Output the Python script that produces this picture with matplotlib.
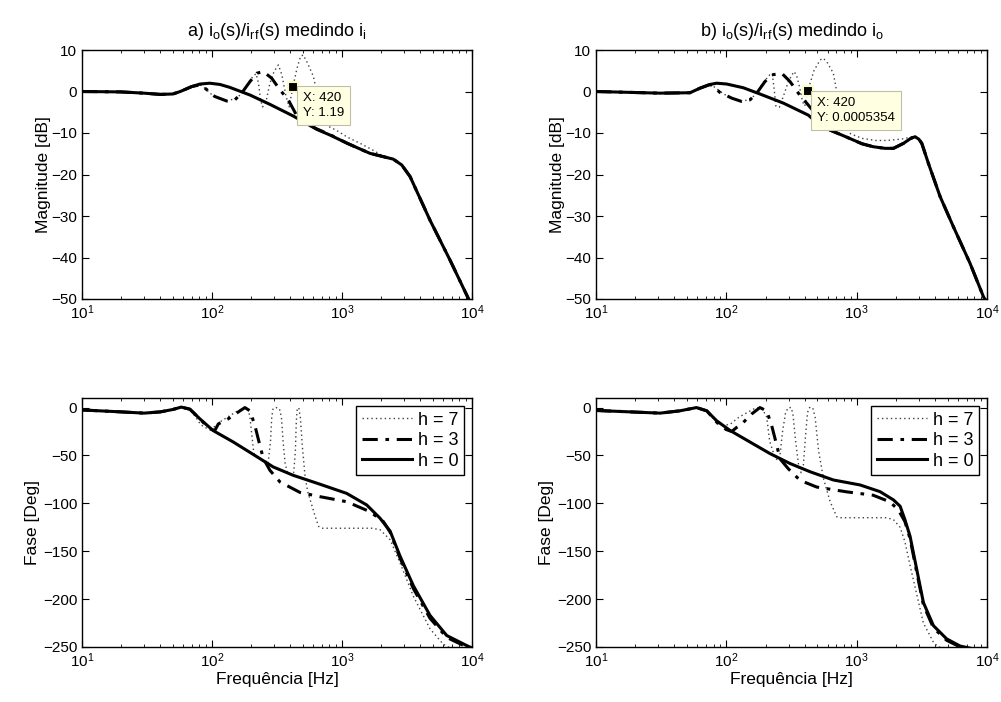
import matplotlib
matplotlib.use("Agg")
import matplotlib.pyplot as plt
from matplotlib.ticker import LogLocator, NullFormatter, FixedLocator

plt.rcParams['font.family'] = ['Liberation Sans', 'DejaVu Sans']
plt.rcParams['mathtext.fontset'] = 'custom'
plt.rcParams['mathtext.rm'] = 'Liberation Sans'
plt.rcParams['mathtext.it'] = 'Liberation Sans:italic'
plt.rcParams['mathtext.bf'] = 'Liberation Sans:bold'

# ---------------- data: panel a) (medindo i_i) ----------------
# magnitude [dB]
a_mag_f0 = [10, 20, 30, 40, 50, 57, 70, 81, 96, 115, 137, 196, 279, 421, 638, 809, 1100, 1640, 2480, 2880, 3340, 4750, 6770, 9350, 10000]
a_mag_h0 = [0, -0.1, -0.4, -0.7, -0.6, 0, 1.2, 1.8, 2.0, 1.7, 1.0, -0.85, -3.1, -5.9, -9.1, -10.5, -12.5, -14.9, -16.3, -17.7, -20.5, -31, -40.6, -49.8, -52]

a_mag_f3 = [10, 20, 30, 40, 50, 57, 70, 81, 90, 105, 130, 150, 169, 196, 221, 248, 288, 333, 386, 461, 550, 638, 809, 1100, 1640, 2480, 2880, 3340, 4750, 6770, 9350, 10000]
a_mag_h3 = [0, -0.1, -0.4, -0.7, -0.6, 0, 1.2, 1.6, 0.6, -1.2, -2.3, -2.0, -0.4, 2.4, 4.4, 4.8, 3.2, 0.4, -2.0, -6.5, -7.9, -9.0, -10.4, -12.5, -14.9, -16.3, -17.7, -20.5, -31, -40.6, -49.8, -52]

a_mag_f7 = [10, 20, 30, 40, 50, 57, 70, 81, 88, 100, 115, 130, 150, 170, 185, 205, 218, 228, 236, 245, 260, 279, 300, 324, 345, 370, 392, 420, 450, 480, 503, 540, 603, 638, 680, 740, 900, 1100, 1400, 1700, 2000, 2480, 2880, 3340, 4750, 6770, 9350, 10000]
a_mag_h7 = [0, -0.1, -0.4, -0.7, -0.6, 0, 1.2, 1.6, 0.8, -0.8, -1.8, -2.2, -1.8, -0.5, 1.5, 3.5, 4.3, 2.0, -2.0, -3.7, -2.5, 2.0, 4.8, 6.4, 4.0, -1.0, -3.7, 1.19, 5.5, 8.5, 8.8, 7.0, 3.6, 0.0, -5.5, -8.0, -9.3, -11.0, -12.6, -14.0, -15.3, -16.3, -17.7, -20.5, -31, -40.6, -49.8, -52]

# phase [deg]
a_ph_f0 = [10, 20, 30, 40, 50, 58, 67.6, 81, 102, 146, 208, 296, 421, 676, 1086, 1550, 1960, 2345, 2793, 3540, 4754, 6390, 9100, 10000]
a_ph_h0 = [-2.5, -4.5, -5.8, -4.5, -2, 0.5, -1.7, -12, -24, -36, -49, -62, -70.7, -80, -89.6, -101.7, -115.5, -129, -155, -186, -217, -238, -248.5, -251]

a_ph_f3 = [10, 20, 30, 40, 50, 58, 67.6, 81, 95, 105, 112, 130, 150, 179, 196, 214, 234, 248, 279, 333, 475, 676, 1086, 1640, 2080, 2345, 2793, 3540, 4754, 6390, 9100, 10000]
a_ph_h3 = [-2.5, -4.5, -5.8, -4.5, -2, 0.5, -1.7, -12, -22, -24, -17, -12.7, -7, 0, -3.4, -19, -40, -53, -65.5, -77.6, -88.6, -93, -98.3, -108.7, -119, -130, -157, -189, -220, -240, -250, -252]

a_ph_f7 = [10, 20, 30, 40, 50, 58, 67.6, 75, 82, 92, 102, 115, 135, 155, 175, 185, 195, 203, 210, 225, 250, 270, 282, 288, 295, 310, 330, 342, 352, 365, 380, 400, 425, 438, 445, 452, 465, 478, 495, 520, 545, 580, 620, 660, 700, 1000, 1700, 1960, 2345, 2793, 3540, 4754, 6000, 6770, 10000]
a_ph_h7 = [-2.5, -4.5, -5.8, -4.5, -2, 0.5, -1.7, -10, -18, -22, -21, -15, -9, -4, -0.5, -0.5, -8, -30, -48, -52, -56, -58, -35, -10, -1, 0, -1, -10, -35, -58, -68, -70, -68, -45, -15, -2, 0, -10, -40, -72, -88, -100, -113, -124, -126, -126, -126, -127.5, -138, -162, -197, -231, -247, -251, -256]

# ---------------- data: panel b) (medindo i_o) ----------------
b_mag_f0 = [10, 31, 52.6, 62.8, 75, 84.3, 100.7, 135, 181, 274, 426, 470, 625, 839, 1100, 1337, 1652, 1915, 2285, 2600, 2808, 3000, 3160, 3550, 4365, 5525, 7410, 9380, 10000]
b_mag_h0 = [0, -0.4, -0.3, 0.8, 1.7, 2.0, 1.8, 0.9, -0.6, -2.8, -5.7, -6.9, -9.3, -11.0, -12.6, -13.3, -13.7, -13.7, -12.5, -11.3, -10.9, -11.5, -12.5, -17.3, -25.3, -32.6, -41.4, -49.4, -51]

b_mag_f3 = [10, 31, 52.6, 62.8, 75, 80, 89, 110, 131, 152, 171, 198, 223, 266, 308, 357, 426, 494, 560, 625, 839, 1100, 1337, 1652, 1915, 2285, 2600, 2808, 3000, 3160, 3550, 4365, 5525, 7410, 9380, 10000]
b_mag_h3 = [0, -0.4, -0.3, 0.8, 1.7, 1.2, -0.2, -1.6, -2.4, -2.0, -0.4, 2.4, 4.0, 4.4, 2.4, -0.4, -3.3, -5.7, -8.2, -9.3, -11.0, -12.6, -13.3, -13.7, -13.7, -12.5, -11.3, -10.9, -11.5, -12.5, -17.3, -25.3, -32.6, -41.4, -49.4, -51]

b_mag_f7 = [10, 31, 52.6, 62.8, 75, 80, 90, 100, 115, 135, 155, 172, 190, 215, 225, 232, 240, 255, 275, 300, 330, 345, 365, 385, 400, 420, 470, 524, 556, 600, 662, 703, 740, 800, 900, 1100, 1400, 1700, 2000, 2285, 2600, 2808, 3000, 3160, 3550, 4365, 5525, 7410, 9380, 10000]
b_mag_h7 = [0, -0.4, -0.3, 0.8, 1.7, 1.2, 0.0, -1.0, -2.0, -2.3, -1.8, -0.2, 2.0, 4.0, 4.3, 1.0, -3.5, -3.8, -1.0, 2.5, 4.8, 4.0, 1.0, -2.5, -3.5, 0.0, 5.0, 7.6, 8.0, 6.8, 4.4, 0.0, -4.0, -8.0, -10.2, -11.3, -11.8, -11.8, -11.6, -11.4, -11.0, -10.9, -11.5, -12.5, -17.3, -25.3, -32.6, -41.4, -49.4, -51]

b_ph_f0 = [10, 31, 44, 59, 70.8, 84.3, 107, 152, 216, 308, 439, 662, 1062, 1512, 1915, 2155, 2345, 2570, 2890, 3250, 3880, 4900, 6220, 10000]
b_ph_h0 = [-3, -5.8, -3.4, 0, -3.4, -13.8, -24, -36, -48, -58.4, -67, -75.6, -80.8, -87.8, -96.4, -103, -117, -134.5, -169, -203.5, -227.7, -241.5, -249, -255]

b_ph_f3 = [10, 31, 44, 59, 70.8, 78, 88, 100, 110, 120, 135, 156, 181, 204, 223, 244, 258, 299, 368, 494, 839, 1337, 1803, 2090, 2345, 2570, 2890, 3250, 3880, 4900, 6220, 10000]
b_ph_h3 = [-3, -5.8, -3.4, 0, -3.4, -10, -18, -23, -25, -20.7, -15.5, -6.8, 0, -3.4, -19, -39.6, -53.5, -63.9, -76, -83, -88, -91.5, -98.5, -107, -119, -137, -172, -206, -230, -243, -250, -256]

b_ph_f7 = [10, 31, 44, 59, 70.8, 78, 85, 95, 108, 125, 150, 170, 190, 204, 215, 237, 250, 258, 270, 285, 299, 315, 325, 340, 360, 375, 390, 405, 420, 435, 460, 480, 510, 556, 625, 703, 740, 1700, 1915, 2155, 2345, 2570, 2890, 3250, 3880, 4230, 10000]
b_ph_h7 = [-3, -5.8, -3.4, 0, -3.4, -10, -16, -19, -17, -10, -4, 0, -2, -10, -35, -53, -55, -50, -25, -5, 0, 0, -8, -35, -62, -68, -60, -30, -5, 0, 0, -10, -45, -74, -98, -114, -115, -115, -117, -125, -140, -165, -195, -225, -245, -250, -256]

# datatips
tip_a = (420, 1.19, "X: 420\nY: 1.19")
tip_b = (420, 0.0005354, "X: 420\nY: 0.0005354")

legend_labels = ["h = 7", "h = 3", "h = 0"]
titles = [r"a) i$_\mathrm{o}$(s)/i$_\mathrm{rf}$(s) medindo i$_\mathrm{i}$",
          r"b) i$_\mathrm{o}$(s)/i$_\mathrm{rf}$(s) medindo i$_\mathrm{o}$"]

# ---------------- styles ----------------
S7 = dict(color='0.25', lw=1.0, linestyle=(0, (1, 2.2)))
S3 = dict(color='black', lw=2.2, linestyle=(0, (5, 2.5, 1.2, 2.5)))
S0 = dict(color='black', lw=2.2, linestyle='-')

W, H = 1001, 702
fig = plt.figure(figsize=(W / 100, H / 100), dpi=100)


def ax_rect(x0, x1, ytop, ybot):
    return [x0 / W, 1 - ybot / H, (x1 - x0) / W, (ybot - ytop) / H]


def style_axis(ax, ylim, yticks):
    ax.set_xscale('log')
    ax.set_xlim(10, 10000)
    ax.set_ylim(*ylim)
    ax.yaxis.set_major_locator(FixedLocator(yticks))
    ax.xaxis.set_major_locator(LogLocator(base=10, numticks=10))
    ax.xaxis.set_minor_locator(LogLocator(base=10, subs=range(2, 10), numticks=100))
    ax.xaxis.set_minor_formatter(NullFormatter())
    ax.tick_params(which='both', direction='in', top=True, right=True, labelsize=11)
    ax.tick_params(which='major', length=5, width=0.8)
    ax.tick_params(which='minor', length=2.5, width=0.6)
    for s in ax.spines.values():
        s.set_linewidth(1.0)


panels = [
    (82, 472, a_mag_f7, a_mag_h7, a_mag_f3, a_mag_h3, a_mag_f0, a_mag_h0,
     a_ph_f7, a_ph_h7, a_ph_f3, a_ph_h3, a_ph_f0, a_ph_h0, tip_a, titles[0]),
    (596, 987, b_mag_f7, b_mag_h7, b_mag_f3, b_mag_h3, b_mag_f0, b_mag_h0,
     b_ph_f7, b_ph_h7, b_ph_f3, b_ph_h3, b_ph_f0, b_ph_h0, tip_b, titles[1]),
]

for (x0, x1, mf7, mh7, mf3, mh3, mf0, mh0, pf7, ph7, pf3, ph3, pf0, ph0, tip, title) in panels:
    axm = fig.add_axes(ax_rect(x0, x1, 50, 299))
    axm.plot(mf7, mh7, **S7)
    axm.plot(mf3, mh3, **S3)
    axm.plot(mf0, mh0, **S0)
    style_axis(axm, (-50, 10), [-50, -40, -30, -20, -10, 0, 10])
    axm.set_ylabel("Magnitude [dB]", fontsize=12.5, labelpad=0)
    axm.set_title(title, fontsize=13, pad=10)
    tx, ty, tt = tip
    axm.plot([tx], [ty], marker='s', ms=7, mfc='black', mec='#fbfbc8', mew=1.5, zorder=6)
    axm.annotate(tt, xy=(tx, ty), xytext=(7, -4), textcoords='offset points',
                 ha='left', va='top', fontsize=9.5, linespacing=1.35, zorder=7,
                 bbox=dict(boxstyle='square,pad=0.45', fc='#ffffe1', ec='#c0c0a8', lw=0.8))

    axp = fig.add_axes(ax_rect(x0, x1, 398, 647))
    l7, = axp.plot(pf7, ph7, **S7)
    l3, = axp.plot(pf3, ph3, **S3)
    l0, = axp.plot(pf0, ph0, **S0)
    style_axis(axp, (-250, 10), [-250, -200, -150, -100, -50, 0])
    axp.set_ylabel("Fase [Deg]", fontsize=12.5, labelpad=2)
    axp.set_xlabel("Frequência [Hz]", fontsize=12.5, labelpad=1)
    leg = axp.legend([l7, l3, l0], legend_labels, loc='upper right', fontsize=13,
                     handlelength=2.8, handletextpad=0.3, borderpad=0.3,
                     labelspacing=0.2, borderaxespad=0.45, fancybox=False,
                     framealpha=1, edgecolor='black')
    leg.get_frame().set_linewidth(1.0)

fig.savefig("out.png", dpi=100)
